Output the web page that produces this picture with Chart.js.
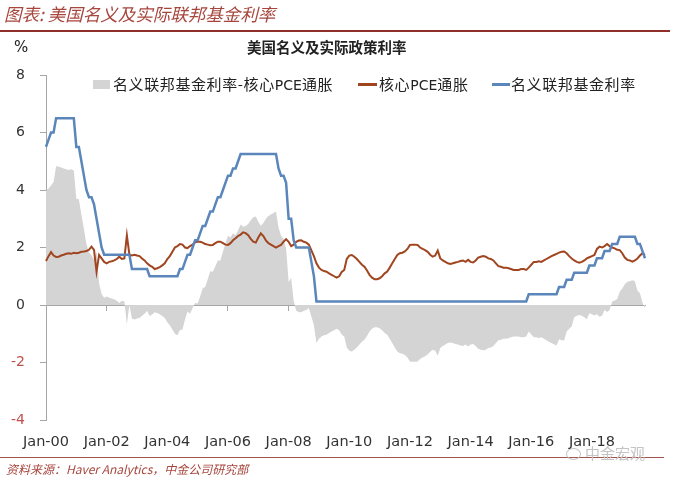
<!DOCTYPE html>
<html>
<head>
<meta charset="utf-8">
<script src="https://cdn.jsdelivr.net/npm/chart.js@4.4.0/dist/chart.umd.min.js"></script>
<style>
  body { margin: 0; background: #fff; width: 674px; height: 483px; overflow: hidden; position: relative;
         font-family: 'Noto Sans CJK SC', sans-serif; }
  #wrap { position: absolute; left: 0; top: 0; width: 674px; height: 483px; }
  .abs { position: absolute; white-space: nowrap; }
  #header { left: 4px; top: 2px; font-size: 17.5px; font-style: italic; color: #a7463d; line-height: 24px; }
  #topRule { left: 0; top: 30px; width: 670px; height: 2px; background: #8e2f2a; }
  #unit { left: 14px; top: 38px; font: 15px 'DejaVu Sans'; color: #222; line-height: 18px; }
  #title { left: 247px; top: 37px; font-size: 14.5px; font-weight: bold; color: #222; line-height: 20px; }
  .leg { font-size: 15px; letter-spacing: 0.6px; color: #222; line-height: 18px; top: 75px; }
  .leg b { font-family: 'DejaVu Sans'; font-weight: normal; font-size: 14px; letter-spacing: 0; }
  .swatch { position: absolute; }
  #bottomRule { left: 0; top: 457px; width: 664px; height: 1px; background: #a0554c; }
  #footer { left: 6px; top: 461px; font-size: 12px; font-style: italic; color: #a7463d; line-height: 16px; }
  #mark { left: 585px; top: 444px; font-size: 15px; color: #c4c4c4; line-height: 18px; }
  #markIcon { left: 566px; top: 448px; width: 13px; height: 10px; border: 1.5px solid #c4c4c4; border-radius: 50%; }
</style>
</head>
<body>
<div id="wrap"><canvas id="rateChart"></canvas></div>

<div class="abs" id="header">图表: 美国名义及实际联邦基金利率</div>
<div class="abs" id="topRule"></div>
<div class="abs" id="unit">%</div>
<div class="abs" id="title">美国名义及实际政策利率</div>

<div class="swatch" id="swGap" style="left:93px;top:80px;width:17px;height:9px;"></div>
<div class="abs leg" style="left:113px;">名义联邦基金利率-核心<b>PCE</b>通胀</div>
<div class="swatch" id="swPce" style="left:358px;top:83px;width:19px;height:3px;"></div>
<div class="abs leg" style="left:379px;">核心<b>PCE</b>通胀</div>
<div class="swatch" id="swFed" style="left:492px;top:83px;width:18px;height:3px;"></div>
<div class="abs leg" style="left:511px;">名义联邦基金利率</div>

<div class="abs" id="bottomRule"></div>
<div class="abs" id="footer">资料来源：Haver Analytics，中金公司研究部</div>
<div class="abs" id="markIcon"></div>
<div class="abs" id="mark">中金宏观</div>

<script>
// Monthly data, Jan 2000 - Oct 2019
const fedFundsRate = [
  5.5, 5.75, 6.0, 6.0, 6.5, 6.5, 6.5, 6.5, 6.5, 6.5, 6.5, 6.5,
  5.5, 5.5, 5.0, 4.5, 4.0, 3.75, 3.75, 3.5, 3.0, 2.5, 2.0, 1.75,
  1.75, 1.75, 1.75, 1.75, 1.75, 1.75, 1.75, 1.75, 1.75, 1.75, 1.25, 1.25,
  1.25, 1.25, 1.25, 1.25, 1.25, 1.0, 1.0, 1.0, 1.0, 1.0, 1.0, 1.0,
  1.0, 1.0, 1.0, 1.0, 1.0, 1.25, 1.25, 1.5, 1.75, 1.75, 2.0, 2.25,
  2.25, 2.5, 2.75, 2.75, 3.0, 3.25, 3.25, 3.5, 3.75, 3.75, 4.0, 4.25,
  4.5, 4.5, 4.75, 4.75, 5.0, 5.25, 5.25, 5.25, 5.25, 5.25, 5.25, 5.25,
  5.25, 5.25, 5.25, 5.25, 5.25, 5.25, 5.25, 5.25, 4.75, 4.5, 4.5, 4.25,
  3.0, 3.0, 2.25, 2.0, 2.0, 2.0, 2.0, 2.0, 2.0, 1.5, 1.0, 0.125,
  0.125, 0.125, 0.125, 0.125, 0.125, 0.125, 0.125, 0.125, 0.125, 0.125, 0.125, 0.125,
  0.125, 0.125, 0.125, 0.125, 0.125, 0.125, 0.125, 0.125, 0.125, 0.125, 0.125, 0.125,
  0.125, 0.125, 0.125, 0.125, 0.125, 0.125, 0.125, 0.125, 0.125, 0.125, 0.125, 0.125,
  0.125, 0.125, 0.125, 0.125, 0.125, 0.125, 0.125, 0.125, 0.125, 0.125, 0.125, 0.125,
  0.125, 0.125, 0.125, 0.125, 0.125, 0.125, 0.125, 0.125, 0.125, 0.125, 0.125, 0.125,
  0.125, 0.125, 0.125, 0.125, 0.125, 0.125, 0.125, 0.125, 0.125, 0.125, 0.125, 0.125,
  0.125, 0.125, 0.125, 0.125, 0.125, 0.125, 0.125, 0.125, 0.125, 0.125, 0.125, 0.375,
  0.375, 0.375, 0.375, 0.375, 0.375, 0.375, 0.375, 0.375, 0.375, 0.375, 0.375, 0.625,
  0.625, 0.625, 0.875, 0.875, 0.875, 1.125, 1.125, 1.125, 1.125, 1.125, 1.125, 1.375,
  1.375, 1.375, 1.625, 1.625, 1.625, 1.875, 1.875, 1.875, 2.125, 2.125, 2.125, 2.375,
  2.375, 2.375, 2.375, 2.375, 2.375, 2.375, 2.125, 2.125, 1.875, 1.625
];

const corePce = [
  1.53, 1.7, 1.84, 1.72, 1.67, 1.68, 1.72, 1.75, 1.78, 1.8, 1.78, 1.82,
  1.8, 1.82, 1.85, 1.86, 1.88, 1.92, 2.03, 1.92, 1.16, 1.74, 1.62, 1.5,
  1.45, 1.5, 1.52, 1.55, 1.6, 1.68, 1.6, 1.62, 2.42, 1.75, 1.72, 1.75,
  1.72, 1.7, 1.62, 1.55, 1.45, 1.38, 1.33, 1.25, 1.28, 1.32, 1.38, 1.45,
  1.6, 1.7, 1.85, 2.0, 2.05, 2.12, 2.1, 2.0, 1.98, 2.05, 2.1, 2.18,
  2.2, 2.2, 2.17, 2.12, 2.1, 2.08, 2.09, 2.15, 2.2, 2.2, 2.15, 2.1,
  2.09, 2.15, 2.25, 2.32, 2.4, 2.45, 2.53, 2.5, 2.43, 2.3, 2.2, 2.17,
  2.35, 2.49, 2.4, 2.25, 2.15, 2.1, 2.05, 2.0, 2.05, 2.09, 2.2, 2.29,
  2.2, 2.05, 2.1, 2.2, 2.24, 2.25, 2.2, 2.17, 2.1, 1.9, 1.7, 1.45,
  1.3, 1.22, 1.18, 1.16, 1.1, 1.05, 1.0, 0.95, 1.0, 1.15, 1.22, 1.6,
  1.72, 1.74, 1.68, 1.6, 1.5, 1.4, 1.33, 1.2, 1.05, 0.95, 0.9, 0.9,
  0.93, 1.0, 1.1, 1.16, 1.3, 1.45, 1.6, 1.74, 1.8, 1.82, 1.86, 1.95,
  2.09, 2.1, 2.1, 2.09, 2.0, 1.95, 1.91, 1.85, 1.75, 1.68, 1.72, 1.89,
  1.62, 1.55, 1.5, 1.45, 1.43, 1.45, 1.48, 1.5, 1.53, 1.55, 1.5, 1.57,
  1.5, 1.48, 1.55, 1.65, 1.68, 1.7, 1.68, 1.62, 1.6, 1.55, 1.45, 1.35,
  1.33, 1.3, 1.3, 1.28, 1.25, 1.22, 1.22, 1.22, 1.25, 1.25, 1.22, 1.3,
  1.4, 1.5, 1.5, 1.52, 1.5, 1.55, 1.6, 1.65, 1.7, 1.74, 1.78, 1.82,
  1.85, 1.86, 1.8, 1.7, 1.62, 1.55, 1.5, 1.47, 1.5, 1.55, 1.62, 1.66,
  1.7, 1.74, 1.95, 2.03, 2.0, 2.05, 2.12, 2.05, 2.0, 1.97, 1.92, 1.91,
  1.8, 1.65, 1.57, 1.55, 1.51, 1.55, 1.62, 1.72, 1.8, 1.74
];

const monthNames = ['Jan', 'Feb', 'Mar', 'Apr', 'May', 'Jun', 'Jul', 'Aug', 'Sep', 'Oct', 'Nov', 'Dec'];
const startYear = 2000;
const xTickLabels = ['Jan-00', 'Jan-02', 'Jan-04', 'Jan-06', 'Jan-08', 'Jan-10', 'Jan-12', 'Jan-14', 'Jan-16', 'Jan-18'];
const yMin = -4, yMax = 8, yStep = 2;

// category labels like "Jan-00"
const labels = fedFundsRate.map((_, i) =>
  monthNames[i % 12] + '-' + String(startYear + Math.floor(i / 12)).slice(2));

// gray area is defined by its legend: nominal rate minus core PCE
const realRate = fedFundsRate.map((v, i) => +(v - corePce[i]).toFixed(3));

const colors = {
  fed: '#5a86bb',
  pce: '#a0451f',
  gap: '#d4d4d4',
  axis: '#a6a6a6',
  text: '#333333',
  neg: '#c0504d'
};

document.getElementById('swGap').style.background = colors.gap;
document.getElementById('swPce').style.background = colors.pce;
document.getElementById('swFed').style.background = colors.fed;

const isTickLabel = i => xTickLabels.includes(labels[i]);

new Chart('rateChart', {
  type: 'line',
  data: {
    labels: labels,
    datasets: [
      {
        label: '名义联邦基金利率',
        data: fedFundsRate,
        borderColor: colors.fed,
        borderWidth: 2.5,
        pointRadius: 0,
        tension: 0,
        fill: false,
        order: 0
      },
      {
        label: '核心PCE通胀',
        data: corePce,
        borderColor: colors.pce,
        borderWidth: 2,
        pointRadius: 0,
        tension: 0,
        fill: false,
        order: 1
      },
      {
        label: '名义联邦基金利率-核心PCE通胀',
        data: realRate,
        borderWidth: 0,
        borderColor: colors.gap,
        backgroundColor: colors.gap,
        pointRadius: 0,
        tension: 0,
        fill: 'origin',
        order: 2
      }
    ]
  },
  options: {
    responsive: true,
    maintainAspectRatio: false,
    animation: false,
    layout: { padding: { top: 75, right: 29, bottom: 23, left: 0 } },
    plugins: {
      legend: { display: false },
      tooltip: { enabled: false }
    },
    scales: {
      x: {
        type: 'category',
        position: 'bottom',
        grid: { display: false },
        border: { display: false },
        ticks: {
          autoSkip: false,
          maxRotation: 0,
          minRotation: 0,
          padding: 6,
          color: colors.text,
          font: { family: 'DejaVu Sans', size: 14.5 },
          callback: function (value, index) {
            return isTickLabel(index) ? labels[index] : '';
          }
        },
        afterFit: scale => { scale.height = 40; }
      },
      xZero: {
        type: 'category',
        position: { y: 0 },
        grid: {
          drawOnChartArea: false,
          drawTicks: true,
          tickLength: 5,
          color: ctx => isTickLabel(ctx.index) ? colors.axis : 'rgba(0,0,0,0)'
        },
        border: { display: true, color: colors.axis, width: 1 },
        ticks: { display: false, autoSkip: false }
      },
      y: {
        min: yMin,
        max: yMax,
        grid: {
          drawOnChartArea: false,
          drawTicks: true,
          tickLength: 6,
          color: colors.axis
        },
        border: { display: true, color: colors.axis, width: 1 },
        ticks: {
          stepSize: yStep,
          padding: 15,
          font: { family: 'DejaVu Sans', size: 14 },
          color: ctx => ctx.tick.value < 0 ? colors.neg : colors.text
        },
        afterFit: scale => { scale.width = 46; }
      }
    }
  }
});
</script>
</body>
</html>
